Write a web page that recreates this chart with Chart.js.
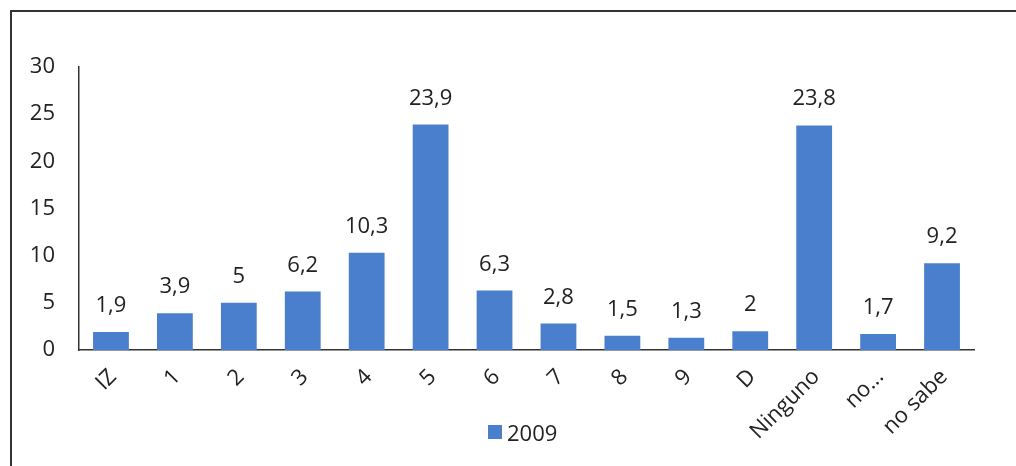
<!DOCTYPE html>
<html>
<head>
<meta charset="utf-8">
<script src="https://cdn.jsdelivr.net/npm/chart.js@4.4.1/dist/chart.umd.min.js"></script>
<style>
  html, body { margin: 0; padding: 0; background: #ffffff; }
  #wrap { position: relative; width: 1016px; height: 466px; overflow: hidden; }
  #frame { position: absolute; left: 10px; top: 10px; width: 1100px; height: 600px; border: 2px solid #333; box-sizing: border-box; }
  #c { position: absolute; left: 0; top: 0; }
  #legend { position: absolute; left: 488px; top: 417px; height: 30px; display: flex; align-items: center;
            font-family: 'Open Sans', 'DejaVu Sans', sans-serif; font-size: 22px; color: #222; }
  #legend .box { width: 14px; height: 14px; margin-right: 5px; }
</style>
</head>
<body>
<div id="wrap">
  <div id="frame"></div>
  <canvas id="c" width="1016" height="466"></canvas>
  <div id="legend"></div>
</div>
<script>
const categories = ['IZ', '1', '2', '3', '4', '5', '6', '7', '8', '9', 'D', 'Ninguno', 'no...', 'no sabe'];
const values2009 = [1.9, 3.9, 5, 6.2, 10.3, 23.9, 6.3, 2.8, 1.5, 1.3, 2, 23.8, 1.7, 9.2];
const seriesName = '2009';
const yTicks = [0, 5, 10, 15, 20, 25, 30];

const FONT = "'Open Sans', 'DejaVu Sans', sans-serif";
const BAR = '#4a7fce';

const valueLabels = {
  id: 'valueLabels',
  afterDatasetsDraw(chart) {
    const ctx = chart.ctx;
    ctx.save();
    ctx.font = '22px ' + FONT;
    ctx.fillStyle = '#222';
    ctx.textAlign = 'center';
    ctx.textBaseline = 'alphabetic';
    chart.data.datasets.forEach((ds, di) => {
      chart.getDatasetMeta(di).data.forEach((bar, i) => {
        const txt = String(ds.data[i]).replace('.', ',');
        ctx.fillText(txt, bar.x, bar.y - 20);
      });
    });
    ctx.restore();
  }
};

const chart = new Chart(document.getElementById('c'), {
  type: 'bar',
  data: {
    labels: categories,
    datasets: [{
      label: seriesName,
      data: values2009,
      backgroundColor: BAR,
      borderWidth: 0,
      categoryPercentage: 1,
      barPercentage: 0.56
    }]
  },
  options: {
    responsive: false,
    animation: false,
    devicePixelRatio: 1,
    layout: { padding: { top: 67, right: 42, left: 0, bottom: 0 } },
    plugins: {
      tooltip: { enabled: false },
      legend: { display: false }
    },
    scales: {
      x: {
        grid: { display: false, drawTicks: false },
        border: { display: true, color: '#333', width: 1.5 },
        ticks: {
          font: { family: FONT, size: 22 },
          color: '#222',
          autoSkip: false,
          maxRotation: 45,
          minRotation: 45,
          padding: 14,
          labelOffset: 2
        },
        afterFit(s) { s.height = 116; }
      },
      y: {
        min: 0,
        max: 30,
        grid: { display: false, drawTicks: false },
        border: { display: true, color: '#333', width: 1.5 },
        afterBuildTicks(s) { s.ticks = yTicks.map(v => ({ value: v })); },
        ticks: {
          font: { family: FONT, size: 22 },
          color: '#222',
          padding: 24
        },
        afterFit(s) { s.width = 79; }
      }
    }
  },
  plugins: [valueLabels]
});

// HTML legend built from the dataset
const legendEl = document.getElementById('legend');
chart.data.datasets.forEach(ds => {
  const box = document.createElement('span');
  box.className = 'box';
  box.style.background = ds.backgroundColor;
  const txt = document.createElement('span');
  txt.textContent = ds.label;
  legendEl.appendChild(box);
  legendEl.appendChild(txt);
});
</script>
</body>
</html>
